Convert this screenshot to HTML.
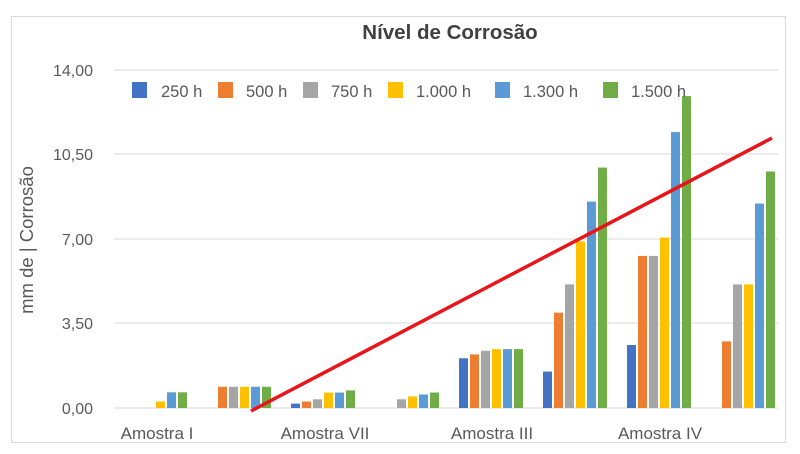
<!DOCTYPE html>
<html><head><meta charset="utf-8"><style>
body{margin:0;background:#fff;}
svg{display:block;font-family:"Liberation Sans","DejaVu Sans",sans-serif;}
</style></head><body>
<svg width="800" height="454" viewBox="0 0 800 454" xmlns="http://www.w3.org/2000/svg">
<rect x="0" y="0" width="800" height="454" fill="#fff"/>
<rect x="11.5" y="16.5" width="774" height="426" fill="#fff" stroke="#d9d9d9" stroke-width="1"/>
<text x="450" y="39" text-anchor="middle" font-size="20.5" font-weight="bold" fill="#404040">Nível de Corrosão</text>
<g stroke="#d9d9d9" stroke-width="1">
<line x1="114" y1="70" x2="778" y2="70"/>
<line x1="114" y1="154" x2="778" y2="154"/>
<line x1="114" y1="239" x2="778" y2="239"/>
<line x1="114" y1="323" x2="778" y2="323"/>
<line x1="114" y1="408" x2="778" y2="408"/>
</g>
<g font-size="16" fill="#595959" text-anchor="end">
<text x="93" y="76">14,00</text>
<text x="93" y="160">10,50</text>
<text x="93" y="245">7,00</text>
<text x="93" y="329">3,50</text>
<text x="93" y="414">0,00</text>
</g>
<text transform="translate(33,240) rotate(-90)" text-anchor="middle" font-size="18.5" fill="#595959">mm de | Corrosão</text>
<g>
<rect x="156" y="401.48" width="9" height="6.52" fill="#ffc000"/>
<rect x="167" y="392.31" width="9" height="15.69" fill="#5b9bd5"/>
<rect x="178" y="392.31" width="9" height="15.69" fill="#70ad47"/>

<rect x="218" y="386.76" width="9" height="21.24" fill="#ed7d31"/>
<rect x="229" y="386.76" width="9" height="21.24" fill="#a5a5a5"/>
<rect x="240" y="386.76" width="9" height="21.24" fill="#ffc000"/>
<rect x="251" y="386.76" width="9" height="21.24" fill="#5b9bd5"/>
<rect x="262" y="386.76" width="9" height="21.24" fill="#70ad47"/>

<rect x="291" y="403.65" width="9" height="4.35" fill="#4472c4"/>
<rect x="302" y="401.48" width="9" height="6.52" fill="#ed7d31"/>
<rect x="313" y="399.31" width="9" height="8.69" fill="#a5a5a5"/>
<rect x="324" y="392.55" width="9" height="15.45" fill="#ffc000"/>
<rect x="335" y="392.55" width="9" height="15.45" fill="#5b9bd5"/>
<rect x="346" y="390.38" width="9" height="17.62" fill="#70ad47"/>

<rect x="397" y="399.31" width="9" height="8.69" fill="#a5a5a5"/>
<rect x="408" y="396.41" width="9" height="11.59" fill="#ffc000"/>
<rect x="419" y="394.48" width="9" height="13.52" fill="#5b9bd5"/>
<rect x="430" y="392.55" width="9" height="15.45" fill="#70ad47"/>

<rect x="459" y="358.27" width="9" height="49.73" fill="#4472c4"/>
<rect x="470" y="354.41" width="9" height="53.59" fill="#ed7d31"/>
<rect x="481" y="350.79" width="9" height="57.21" fill="#a5a5a5"/>
<rect x="492" y="349.1" width="9" height="58.9" fill="#ffc000"/>
<rect x="503" y="349.1" width="9" height="58.9" fill="#5b9bd5"/>
<rect x="514" y="349.1" width="9" height="58.9" fill="#70ad47"/>

<rect x="543" y="371.55" width="9" height="36.45" fill="#4472c4"/>
<rect x="554" y="312.65" width="9" height="95.35" fill="#ed7d31"/>
<rect x="565" y="284.4" width="9" height="123.6" fill="#a5a5a5"/>
<rect x="576" y="241.43" width="9" height="166.57" fill="#ffc000"/>
<rect x="587" y="201.6" width="9" height="206.4" fill="#5b9bd5"/>
<rect x="598" y="167.57" width="9" height="240.43" fill="#70ad47"/>

<rect x="627" y="344.99" width="9" height="63.01" fill="#4472c4"/>
<rect x="638" y="255.92" width="9" height="152.08" fill="#ed7d31"/>
<rect x="649" y="255.92" width="9" height="152.08" fill="#a5a5a5"/>
<rect x="660" y="237.57" width="9" height="170.43" fill="#ffc000"/>
<rect x="671" y="132.08" width="9" height="275.92" fill="#5b9bd5"/>
<rect x="682" y="96.11" width="9" height="311.89" fill="#70ad47"/>

<rect x="722" y="341.37" width="9" height="66.63" fill="#ed7d31"/>
<rect x="733" y="284.4" width="9" height="123.6" fill="#a5a5a5"/>
<rect x="744" y="284.4" width="9" height="123.6" fill="#ffc000"/>
<rect x="755" y="203.53" width="9" height="204.47" fill="#5b9bd5"/>
<rect x="766" y="171.43" width="9" height="236.57" fill="#70ad47"/>
</g>
<g font-size="17" fill="#595959" text-anchor="middle">
<text x="157" y="439">Amostra I</text>
<text x="325" y="439">Amostra VII</text>
<text x="492" y="439">Amostra III</text>
<text x="660" y="439">Amostra IV</text>
</g>
<g font-size="16.5" fill="#595959">
<rect x="132" y="82" width="15" height="16" fill="#4472c4"/><text x="161" y="97">250 h</text>
<rect x="218" y="82" width="15" height="16" fill="#ed7d31"/><text x="246" y="97">500 h</text>
<rect x="303" y="82" width="15" height="16" fill="#a5a5a5"/><text x="331" y="97">750 h</text>
<rect x="388" y="82" width="15" height="16" fill="#ffc000"/><text x="416" y="97">1.000 h</text>
<rect x="495" y="82" width="15" height="16" fill="#5b9bd5"/><text x="523" y="97">1.300 h</text>
<rect x="603" y="82" width="15" height="16" fill="#70ad47"/><text x="631" y="97">1.500 h</text>
</g>
<line x1="251" y1="411" x2="772" y2="138" stroke="#e8161b" stroke-width="3.5"/>
</svg>
</body></html>
